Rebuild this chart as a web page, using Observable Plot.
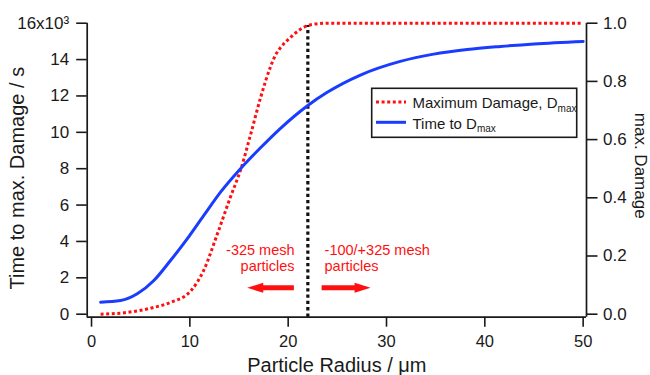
<!DOCTYPE html>
<html>
<head>
<meta charset="utf-8">
<script src="https://cdn.jsdelivr.net/npm/d3@7"></script>
<script src="https://cdn.jsdelivr.net/npm/@observablehq/plot@0.6"></script>
<style>
  html, body { margin: 0; padding: 0; background: #fff; }
  #chart { width: 650px; height: 375px; }
</style>
</head>
<body>
<div id="chart"></div>
<script>
// ---- data ----
const timeRadius = [0.92, 2.95, 4.65, 6.34, 8.03, 9.73, 11.42, 13.12, 15.15, 17.19, 19.22, 21.93, 23.97, 27.35, 31.4, 34.8, 38.2, 41.6, 45.0, 50.0];
const timeToDmax = [0.66, 0.75, 1.12, 1.85, 2.95, 4.14, 5.43, 6.71, 8.0, 9.15, 10.22, 11.45, 12.2, 13.15, 13.9, 14.3, 14.55, 14.72, 14.86, 15.0]; // x10^3 s

const damageRadius = [0.92, 3.6, 6.3, 8.0, 10.1, 11.4, 12.8, 14.1, 15.2, 16.2, 17.2, 18.2, 18.7, 19.2, 20.2, 21.3, 22.3, 24.0, 50.0];
const maxDamage = [0.0, 0.006, 0.023, 0.04, 0.08, 0.15, 0.276, 0.40, 0.50, 0.62, 0.745, 0.85, 0.89, 0.915, 0.95, 0.98, 0.995, 1.0, 1.0];

const boundaryRadius = [22];
const xTicks = [0, 10, 20, 30, 40, 50];
const leftTicks = [0, 2, 4, 6, 8, 10, 12, 14, 16];      // x10^3
const rightTicks = [0, 0.2, 0.4, 0.6, 0.8, 1.0];

const leftNote = ["-325 mesh", "particles"];
const rightNote = ["-100/+325 mesh", "particles"];
const noteLevels = [3.49, 2.63];        // x10^3 (left axis units)
const leftNoteRadius = 20.65;
const rightNoteRadius = 23.7;
const arrowTail = [20.58, 23.4];
const arrowTip = [15.84, 28.38];
const arrowLevel = 1.45;                // x10^3

const legendLabels = ["Maximum Damage, D", "Time to D"];
const legendSub = "max";
const xLabel = "Particle Radius / μm";
const yLabel = "Time to max. Damage / s";
const y2Label = "max. Damage";

// ---- derived tables ----
const RIGHT_FULL = 16000; // right axis 1.0 == left axis 16x10^3
const blue = timeRadius.map((r, i) => ({r, y: timeToDmax[i] * 1000}));
const red = damageRadius.map((r, i) => ({r, y: maxDamage[i] * RIGHT_FULL}));
const leftNotes = leftNote.map((t, i) => ({t, r: leftNoteRadius, y: noteLevels[i] * 1000}));
const rightNotes = rightNote.map((t, i) => ({t, r: rightNoteRadius, y: noteLevels[i] * 1000}));
const arrows = arrowTail.map((t, i) => ({
  tail: t, tip: arrowTip[i], y: arrowLevel * 1000,
  shaftEnd: arrowTip[i] + Math.sign(t - arrowTip[i]) * 1.2,
  rot: arrowTip[i] < t ? 180 : 0
}));

const xDomain = [-0.44, 50.34];
const yDomain = [-165, 16000];
const RED = "#ff1010", BLUE = "#1a3cff", INK = "#1a1a1a";
const FONT = "'Liberation Sans', Arial, Helvetica, sans-serif";

const headSymbol = {
  draw(ctx, size) {
    const r = Math.sqrt(size / Math.PI);
    ctx.moveTo(0, 0);
    ctx.lineTo(-2 * r, -0.62 * r);
    ctx.lineTo(-2 * r, 0.62 * r);
    ctx.closePath();
  }
};

const svg = Plot.plot({
  width: 650,
  height: 375,
  marginLeft: 86.7,
  marginRight: 64,
  marginTop: 22.7,
  marginBottom: 58.3,
  style: {fontFamily: FONT, fontSize: "17px", color: INK, background: "#fff"},
  x: {domain: xDomain, axis: null},
  y: {domain: yDomain, axis: null},
  marks: [
    // axis lines (bottom, left, right)
    Plot.ruleY([yDomain[0]], {x1: xDomain[0], x2: xDomain[1], stroke: INK, strokeWidth: 1.7}),
    Plot.ruleX([xDomain[0]], {y1: yDomain[0], y2: RIGHT_FULL, stroke: INK, strokeWidth: 1.7}),
    Plot.ruleX([xDomain[1]], {y1: yDomain[0], y2: RIGHT_FULL, stroke: INK, strokeWidth: 1.7}),
    Plot.axisX(xTicks, {tickSize: 10, tickPadding: 8.5, fontSize: 16.5, strokeWidth: 1.6, label: null, tickFormat: d => String(d)}),
    Plot.axisY(leftTicks.map(k => k * 1000), {anchor: "left", tickSize: 10.5, tickPadding: 7.5, strokeWidth: 1.6, label: null,
      tickFormat: d => d === 16000 ? "16x10³" : String(d / 1000)}),
    Plot.axisY(rightTicks.map(v => v * RIGHT_FULL), {anchor: "right", tickSize: 10.5, tickPadding: 6, strokeWidth: 1.6, label: null,
      tickFormat: d => (d / RIGHT_FULL).toFixed(1)}),
    // axis titles
    Plot.text([yLabel], {frameAnchor: "left", textAnchor: "middle", lineAnchor: "middle", rotate: -90, dx: -70, dy: 8, fontSize: 20, fill: INK}),
    Plot.text([y2Label], {frameAnchor: "right", textAnchor: "middle", lineAnchor: "middle", rotate: 90, dx: 54, dy: -4.5, fontSize: 17, fill: INK}),
    Plot.text([xLabel], {frameAnchor: "bottom", textAnchor: "middle", lineAnchor: "middle", dy: 48, fontSize: 20, fill: INK}),
    // boundary
    Plot.ruleX(boundaryRadius, {y1: yDomain[0], y2: 15870, stroke: "#111", strokeWidth: 3.2, strokeDasharray: "3.3,3", strokeLinecap: "butt"}),
    // curves
    Plot.line(red, {x: "r", y: "y", curve: "monotone-x", stroke: RED, strokeWidth: 3, strokeDasharray: "3,2.6", strokeLinecap: "butt"}),
    Plot.line(blue, {x: "r", y: "y", curve: "monotone-x", stroke: BLUE, strokeWidth: 3}),
    // annotations
    Plot.text(leftNotes, {x: "r", y: "y", text: "t", textAnchor: "end", fill: RED, fontSize: 14.5}),
    Plot.text(rightNotes, {x: "r", y: "y", text: "t", textAnchor: "start", fill: RED, fontSize: 14.5}),
    Plot.link(arrows, {x1: "tail", x2: "shaftEnd", y1: "y", y2: "y", stroke: RED, strokeWidth: 5, strokeLinecap: "butt"}),
    Plot.dot(arrows, {x: "tip", y: "y", symbol: headSymbol, r: 8, fill: RED, stroke: "none", rotate: "rot"})
  ]
});

// ---- legend box drawn into the same svg ----
const g = d3.select(svg).append("g").attr("font-family", FONT).attr("fill", INK).attr("text-anchor", "start");
g.append("rect").attr("x", 371.7).attr("y", 88.3).attr("width", 205).attr("height", 49)
  .attr("fill", "#fff").attr("stroke", INK).attr("stroke-width", 1.6);
const legendStyles = [
  {stroke: RED, dash: "3,2.6", y: 102},
  {stroke: BLUE, dash: null, y: 122.3}
];
legendLabels.forEach((lab, i) => {
  const s = legendStyles[i];
  g.append("line").attr("x1", 376).attr("x2", 406).attr("y1", s.y).attr("y2", s.y)
    .attr("stroke", s.stroke).attr("stroke-width", 3).attr("stroke-dasharray", s.dash);
  const t = g.append("text").attr("x", 412.5).attr("y", s.y + 6.3).attr("font-size", 15).attr("text-anchor", "start");
  t.append("tspan").text(lab);
  t.append("tspan").attr("font-size", 10).attr("dy", 3.5).text(legendSub);
});

document.getElementById("chart").appendChild(svg);
</script>
</body>
</html>
